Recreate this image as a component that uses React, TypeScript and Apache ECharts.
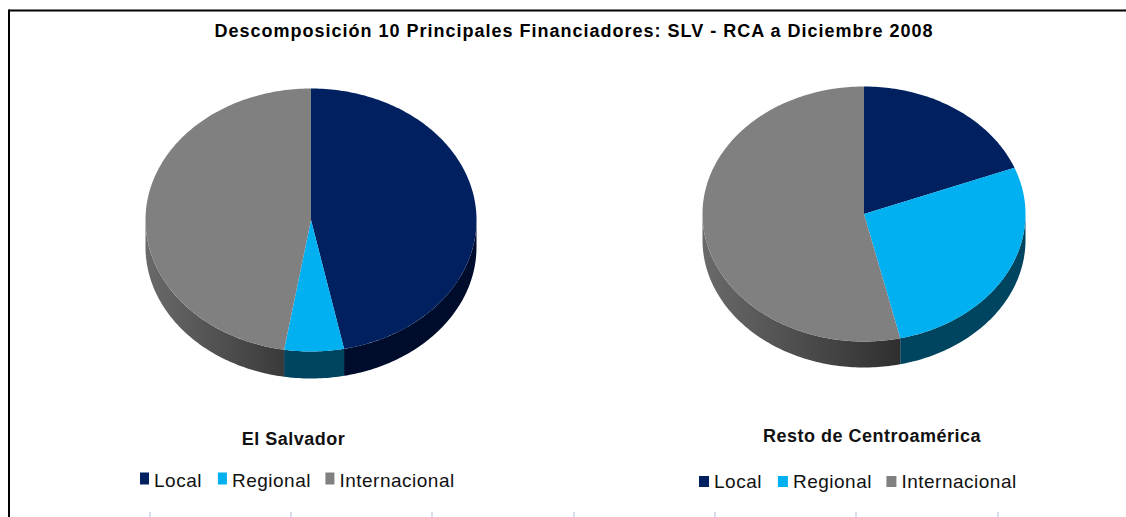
import React, { useEffect, useRef } from "react";
import * as echarts from "echarts";

const categories = ["Local", "Regional", "Internacional"];
const elSalvador = [46.8, 5.8, 47.4];
const restoCA = [19.1, 27.3, 53.6];
const mainTitle = "Descomposición 10 Principales Financiadores: SLV - RCA a Diciembre 2008";
const pieTitles = ["El Salvador", "Resto de Centroamérica"];
const topColors = ["#002060", "#00B0F0", "#808080"];
const tickXs = [150, 291, 432, 574, 715, 856, 998];

const FONT = "Liberation Sans";

type Geom = { cx: number; cy: number; rx: number; ry: number; depth: number; grayEnd: string };

function sideFill(i: number, g: Geom) {
  if (i === 0) return "#000C2C";
  if (i === 1) return "#00455F";
  return new echarts.graphic.LinearGradient(0, 0, 1, 0, [
    { offset: 0, color: "#6A6A6A" },
    { offset: 1, color: g.grayEnd },
  ]);
}

function makeSeries(values: number[], g: Geom) {
  const total = values.reduce((a, b) => a + b, 0);
  return values.map((v, i) => {
    const before = values.slice(0, i).reduce((a, b) => a + b, 0);
    return {
      type: "custom",
      name: categories[i],
      coordinateSystem: "none",
      silent: true,
      itemStyle: { color: topColors[i] },
      data: [[v]],
      renderItem: (_p: any, api: any) => {
        const start = (before / total) * 360;
        const end = ((before + api.value(0)) / total) * 360;
        const pt = (deg: number, dy = 0) => {
          const t = (deg * Math.PI) / 180;
          return [g.cx + g.rx * Math.sin(t), g.cy - g.ry * Math.cos(t) + dy];
        };
        const arc = (a: number, b: number, dy = 0) => {
          const out: number[][] = [];
          const n = Math.max(2, Math.ceil(Math.abs(b - a)));
          for (let k = 0; k <= n; k++) out.push(pt(a + ((b - a) * k) / n, dy));
          return out;
        };
        const children: any[] = [];
        const s0 = Math.max(start, 90);
        const s1 = Math.min(end, 270);
        if (s1 > s0) {
          children.push({
            type: "polygon",
            shape: { points: [...arc(s0, s1), ...arc(s1, s0, g.depth)] },
            style: { fill: sideFill(i, g) },
          });
        }
        children.push({
          type: "polygon",
          shape: { points: [[g.cx, g.cy], ...arc(start, end)] },
          style: { fill: topColors[i] },
        });
        return { type: "group", children };
      },
    };
  });
}

const legendBase = {
  orient: "horizontal",
  icon: "rect",
  selectedMode: false,
  itemGap: 18.5,
  data: categories,
  textStyle: { fontFamily: FONT, fontSize: 19, color: "#111" },
};

const subStyle = { fontFamily: FONT, fontSize: 18, fontWeight: "bold", color: "#111" };
const spacingCss = `.chart-box svg text { letter-spacing: 0.5px; }`;

export default function App() {
  const ref = useRef<HTMLDivElement>(null);
  useEffect(() => {
    const chart = echarts.init(ref.current!, null, { renderer: "svg" });
    chart.setOption({
      animation: false,
      backgroundColor: "#fff",
      title: [
        { text: mainTitle, left: 569, top: 17, textAlign: "center", textStyle: { fontFamily: FONT, fontSize: 18, fontWeight: "bold", color: "#000" } },
        { text: pieTitles[0], left: 288.5, top: 425, textAlign: "center", textStyle: subStyle },
        { text: pieTitles[1], left: 867, top: 422, textAlign: "center", textStyle: subStyle },
      ],
      legend: [
        { ...legendBase, left: 135, top: 464, itemWidth: 9, itemHeight: 12 },
        { ...legendBase, left: 694, top: 467, itemWidth: 10, itemHeight: 11 },
      ],
      series: [
        ...makeSeries(elSalvador, { cx: 311, cy: 220, rx: 165.5, ry: 131.5, depth: 27, grayEnd: "#3A3A3A" }),
        ...makeSeries(restoCA, { cx: 864, cy: 214, rx: 161.5, ry: 127.5, depth: 26, grayEnd: "#2F2F2F" }),
      ],
      graphic: [
        { type: "rect", shape: { x: 9, y: 9.5, width: 1117, height: 2 }, style: { fill: "#000" } },
        { type: "rect", shape: { x: 8, y: 9.5, width: 2, height: 507.5 }, style: { fill: "#000" } },
        ...tickXs.map((x) => ({
          type: "rect",
          shape: { x: x - 1, y: 512, width: 2, height: 5 },
          style: { fill: "#D5DEEC" },
        })),
      ],
    });
    let legendTexts = 0;
    ref.current!.querySelectorAll("text").forEach((t) => {
      if (t.textContent === mainTitle) (t as SVGTextElement).style.letterSpacing = "1px";
      if (categories.includes(t.textContent || "") && legendTexts++ < categories.length) t.setAttribute("dy", "2");
    });
    return () => chart.dispose();
  }, []);
  return (
    <>
      <style>{spacingCss}</style>
      <div ref={ref} className="chart-box" style={{ position: "fixed", left: 0, top: 0, width: 1126, height: 517 }} />
    </>
  );
}
